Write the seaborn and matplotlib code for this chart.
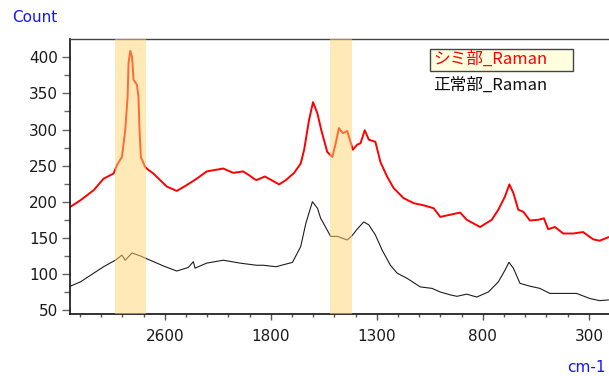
import numpy as np
import pandas as pd
import matplotlib
matplotlib.use("Agg")
import matplotlib.pyplot as plt
from matplotlib.patches import Rectangle
from matplotlib.lines import Line2D
import seaborn as sns

# ---- data ----
shimi_wn = [3313, 3237, 3137, 3062, 2987, 2961, 2924, 2899, 2881, 2874, 2861, 2848, 2836, 2811,
            2799, 2791, 2781, 2748, 2723, 2686, 2636, 2585, 2510, 2435, 2359, 2284, 2159, 2084,
            2009, 1958, 1921, 1908, 1845, 1761, 1729, 1690, 1659, 1643, 1620, 1601, 1580, 1562,
            1534, 1510, 1494, 1479, 1460, 1440, 1413, 1393, 1377, 1357, 1338, 1307, 1283, 1252,
            1221, 1174, 1126, 1079, 1032, 1001, 954, 907, 876, 813, 758, 727, 696, 675, 656, 633,
            609, 578, 539, 512, 492, 460, 421, 374, 327, 280, 249, 207]
shimi_cnt = [193, 202, 216, 232, 239, 251, 262, 299, 345, 392, 409, 401, 369, 362,
             345, 299, 262, 248, 244, 239, 230, 221, 215, 223, 232, 242, 246, 240,
             242, 236, 231, 230, 235, 224, 230, 240, 253, 272, 313, 338, 322, 299,
             269, 262, 281, 302, 295, 298, 272, 279, 281, 299, 286, 283, 255, 235,
             219, 205, 198, 195, 191, 179, 182, 185, 175, 165, 175, 189, 207, 224, 212, 189,
             186, 174, 175, 177, 162, 165, 156, 156, 158, 148, 146, 151]

normal_wn = [3313, 3237, 3137, 3062, 2974, 2924, 2899, 2848, 2786, 2711, 2610, 2510, 2423, 2385,
             2372, 2284, 2159, 2033, 1908, 1858, 1776, 1698, 1659, 1635, 1604, 1580, 1565, 1542,
             1518, 1486, 1440, 1417, 1393, 1362, 1338, 1307, 1275, 1236, 1204, 1158, 1095, 1040,
             1001, 954, 922, 876, 829, 774, 727, 696, 677, 656, 625, 578, 531, 484, 421, 358,
             296, 249, 207]
normal_cnt = [83, 89, 101, 110, 119, 126, 119, 129, 125, 119, 111, 104, 109, 117,
              108, 115, 119, 115, 112, 112, 110, 116, 138, 170, 200, 191, 177, 165,
              152, 152, 147, 153, 162, 172, 168, 154, 133, 112, 101, 94, 82, 80,
              75, 71, 69, 72, 68, 75, 89, 105, 116, 108, 87, 83, 80, 73, 73, 73,
              66, 63, 64]

series_names = ["シミ部_Raman", "正常部_Raman"]
series_colors = ["#ff0000", "#1e1e1e"]
highlight_bands = [(2973, 2741), (1523, 1415)]
x_tick_values = [2600, 1800, 1300, 800, 300]
y_tick_values = [50, 100, 150, 200, 250, 300, 350, 400]
x_limits = (3318, 205)
y_limits = (44.5, 425.4)

# axis anchors (the reference's x axis is evenly spaced between these labels)
anchor_wn = [0, 300, 800, 1300, 1800, 2600, 3400]
anchor_pos = [-0.6, 0, 1, 2, 3, 4, 5]

def fwd(x):
    return np.interp(x, anchor_wn, anchor_pos)

def inv(p):
    return np.interp(p, anchor_pos, anchor_wn)

df = pd.concat([
    pd.DataFrame({"wn": shimi_wn, "count": shimi_cnt, "series": series_names[0]}),
    pd.DataFrame({"wn": normal_wn, "count": normal_cnt, "series": series_names[1]}),
])

sns.set_style("ticks")
plt.rcParams["font.family"] = ["DejaVu Sans", "Noto Sans CJK JP"]

W, H = 609, 376
fig = plt.figure(figsize=(W / 100, H / 100), dpi=100)
ax = fig.add_axes([69.7 / W, 1 - 314 / H, 1 - 69.7 / W, (314 - 39) / H])
ax.set_xscale("function", functions=(fwd, inv))

sns.lineplot(data=df, x="wn", y="count", hue="series", hue_order=series_names,
             palette=dict(zip(series_names, series_colors)), ax=ax, legend=False,
             estimator=None, sort=True)
lines = ax.get_lines()
lines[0].set_linewidth(1.4)
lines[1].set_linewidth(0.8)

for a, b in highlight_bands:
    ax.axvspan(a, b, color="#ffd46e", alpha=0.5, lw=0, zorder=5)

ax.set_xticks(x_tick_values)
ax.set_xticklabels([str(v) for v in x_tick_values])
lo, hi = sorted(fwd(np.array(x_limits)))
minor_pos = [p for p in np.arange(0, 5.01, 0.2) if lo < p < hi]
minor_wn = [w for w in inv(np.array(minor_pos)) if round(w) not in x_tick_values]
ax.set_xticks(minor_wn, minor=True)
ax.set_yticks(y_tick_values)
ax.set_yticks(np.arange(50, 425, 25), minor=True)
ax.set_xlim(*x_limits)
ax.set_ylim(*y_limits)

ax.set_xlabel("")
ax.set_ylabel("")
for s in ["left", "bottom"]:
    ax.spines[s].set_color("#111111")
    ax.spines[s].set_linewidth(1.2)
ax.spines["top"].set_color("#444444")
ax.spines["top"].set_linewidth(1.0)
ax.spines["right"].set_visible(False)

ax.tick_params(axis="y", which="major", length=5.5, width=1, color="#666666",
               labelsize=11, labelcolor="#1a1a1a", pad=3)
ax.tick_params(axis="y", which="minor", length=4, width=1, color="#666666")
ax.tick_params(axis="x", which="major", length=4, width=1, color="#555555",
               labelsize=11, labelcolor="#1a1a1a", pad=7)
ax.tick_params(axis="x", which="minor", length=2.5, width=1, color="#555555")

fig.text(12 / W, 1 - 17 / H, "Count", color="#1414ff", fontsize=11,
         ha="left", va="center")
fig.text(606 / W, 1 - 367 / H, "cm-1", color="#1414ff", fontsize=11,
         ha="right", va="center")

# legend: first entry framed in a pale yellow box, second plain
handles = [Line2D([], [], color=c, lw=0) for c in series_colors]
leg = ax.legend(handles, series_names, loc="upper left",
                bbox_to_anchor=(433 / W, 1 - 51 / H),
                bbox_transform=fig.transFigure,
                frameon=False, handlelength=0, handletextpad=0,
                labelspacing=0.5, borderaxespad=0, borderpad=0,
                prop={"family": ["Noto Sans CJK JP", "DejaVu Sans"], "size": 12})
leg.set_zorder(10)
texts = leg.get_texts()
texts[0].set_color(series_colors[0])
texts[1].set_color("#111111")
ax.add_patch(Rectangle((430 / W, 1 - 71 / H), 143 / W, 22 / H,
                       transform=fig.transFigure, facecolor="#ffffe0",
                       edgecolor="#444444", linewidth=1.0, zorder=9,
                       clip_on=False))

fig.savefig("out.png", dpi=100)
